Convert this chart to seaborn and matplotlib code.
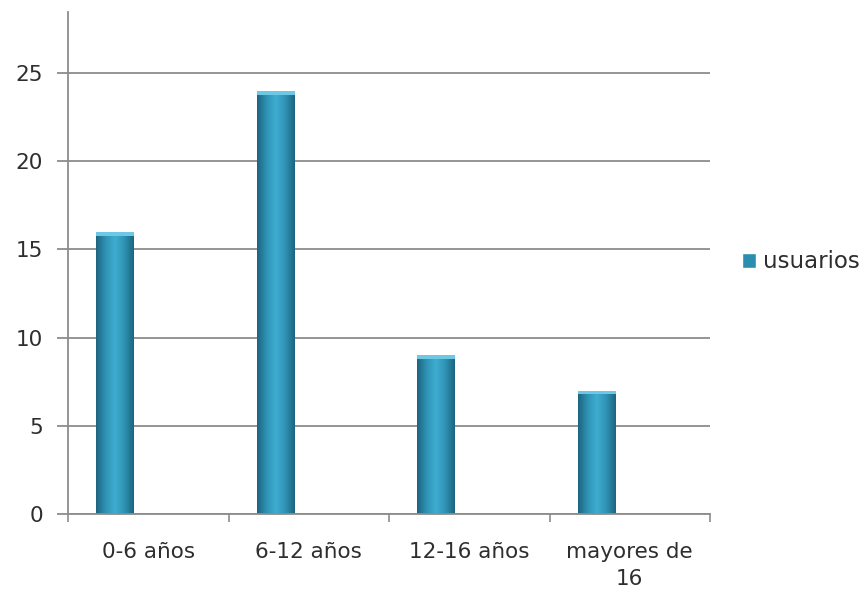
import numpy as np
import pandas as pd
import matplotlib
matplotlib.use("Agg")
import matplotlib.pyplot as plt
import seaborn as sns
from matplotlib.colors import LinearSegmentedColormap
from matplotlib.patches import Patch, Rectangle
from matplotlib.ticker import FixedLocator

categories = ["0-6 años", "6-12 años", "12-16 años", "mayores de\n16"]
usuarios = [16, 24, 9, 7]
series_name = "usuarios"
yticks = [0, 5, 10, 15, 20, 25]

sns.set_theme(style="white")
plt.rcParams['font.family'] = ['DejaVu Sans']

FS = 15.5
TXT = "#2e2e2e"

fig = plt.figure(figsize=(8.65, 5.94), dpi=100)
ax = fig.add_axes([68/865, 1-514/594, (710-68)/865, (514-12)/594])

df = pd.DataFrame({"categoria": categories, series_name: usuarios})
sns.barplot(data=df, x="categoria", y=series_name, color="#2b8db0",
            width=0.235, saturation=1, ax=ax, zorder=3)

# Excel-like cylinder shading
cmap = LinearSegmentedColormap.from_list(
    "bar", ["#1d6580", "#2f93b5", "#3fadd0", "#2f93b5", "#1d6580"])
grad = np.linspace(0, 1, 64).reshape(1, -1)
for p in list(ax.patches):
    p.set_x(p.get_x() - 0.205)
    x0, w, h = p.get_x(), p.get_width(), p.get_height()
    p.set_edgecolor("none")
    im = ax.imshow(grad, cmap=cmap, aspect="auto",
                   extent=[x0, x0 + w, 0, h], zorder=3.5)
    im.set_clip_path(p)
    cap = Rectangle((x0, h - 0.22), w, 0.22, facecolor="#6cc8e4",
                    edgecolor="none", zorder=3.6)
    ax.add_patch(cap)

ax.set_xlim(-0.5, 3.5)
ax.set_ylim(0, 28.46)

gridc = "#8c8c8c"
ax.set_yticks(yticks)
ax.yaxis.grid(True, color=gridc, lw=1.3, zorder=1)
ax.xaxis.grid(False)
for s in ["top", "right"]:
    ax.spines[s].set_visible(False)
for s in ["left", "bottom"]:
    ax.spines[s].set_color(gridc)
    ax.spines[s].set_linewidth(1.3)
    ax.spines[s].set_zorder(4)

ax.set_xlabel("")
ax.set_ylabel("")
ax.set_xticks(range(len(categories)))
ax.set_xticklabels(categories, fontsize=FS, color=TXT, linespacing=1.45)
ax.xaxis.set_minor_locator(FixedLocator(np.arange(-0.5, len(categories), 1.0)))
ax.tick_params(axis="x", which="major", length=0, pad=20)
ax.tick_params(axis="x", which="minor", length=6, width=1.2, color=gridc, bottom=True)
ax.tick_params(axis="y", which="major", length=8, width=1.3, color=gridc,
               labelsize=FS, labelcolor=TXT, pad=10, left=True)

fig.legend(handles=[Patch(facecolor="#2b8db0", label=series_name)],
           loc="center left", bbox_to_anchor=(742/865, 1-262/594),
           frameon=False, handlelength=0.6, handleheight=0.6,
           borderpad=0, borderaxespad=0,
           handletextpad=0.3, fontsize=16.5, labelcolor=TXT)

fig.savefig("out.png", dpi=100, facecolor="white")
